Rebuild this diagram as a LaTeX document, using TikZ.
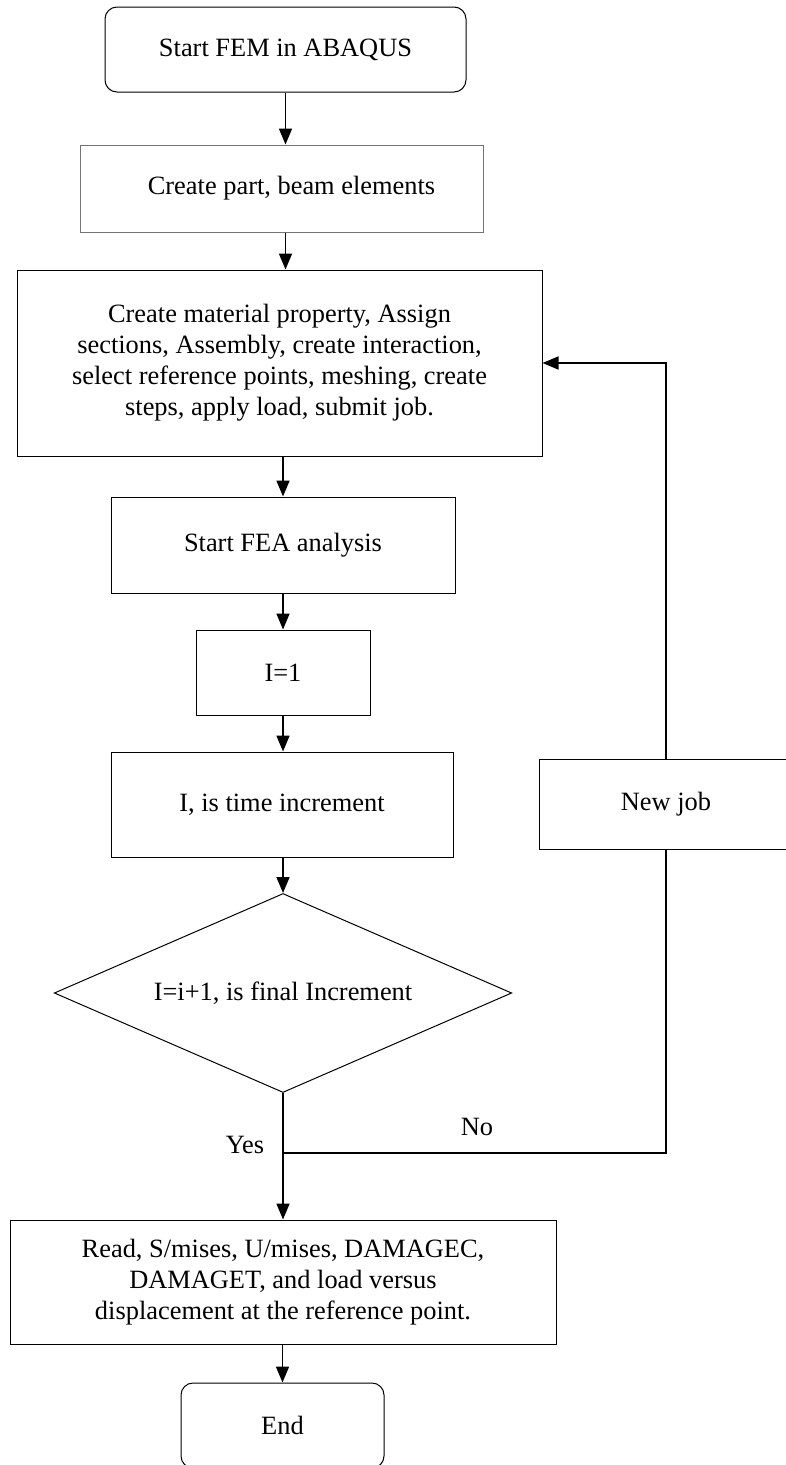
\documentclass[tikz,border=0pt]{standalone}
\usepackage{fontspec}
\setmainfont{Liberation Serif}
\usetikzlibrary{shapes.geometric,arrows.meta}

\begin{document}
\begin{tikzpicture}[
    x=1pt,y=-1pt,
    font=\fontsize{26.4}{31}\selectfont,
    box/.style={rectangle,draw=black,line width=1pt,align=center,inner sep=0pt},
    term/.style={box,rounded corners=12pt},
    decision/.style={diamond,draw=black,line width=1pt,aspect=2.3,inner sep=0pt},
    flow/.style={draw=black,line width=1.7pt,-{Triangle[length=16pt,width=13pt]}},
    link/.style={draw=black,line width=1.4pt},
    ]
    \useasboundingbox (0,0) rectangle (786,1465);
    \node[term,minimum width=361pt,minimum height=85pt] (start) at (285.5,49.5) {Start FEM in ABAQUS};
    \node[box,draw=black!55,minimum width=403pt,minimum height=87pt] (part) at (281.5,188.5) {\hspace{20pt}Create part, beam elements};
    \node[box,minimum width=525pt,minimum height=186pt] (setup) at (279.5,363) {Create material property, Assign\\ sections, Assembly, create interaction,\\ select reference points, meshing, create\\ steps, apply load, submit job.};
    \node[box,minimum width=344pt,minimum height=96pt] (fea) at (283,545) {Start FEA analysis};
    \node[box,minimum width=174pt,minimum height=85pt] (init) at (283,672.5) {I=1};
    \node[box,minimum width=342pt,minimum height=105pt] (incr) at (282,804.5) {I, is time increment};
    \node[decision,minimum width=457.5pt,minimum height=199pt] (check) at (283,993) {I=i+1, is final Increment};
    \node[box,minimum width=254pt,minimum height=90pt] (newjob) at (666,804) {New job};
    \node[box,minimum width=546pt,minimum height=124pt] (read) at (283,1282) {Read, S/mises, U/mises, DAMAGEC,\\ DAMAGET, and load versus\\ displacement at the reference point.};
    \node[term,minimum width=203pt,minimum height=85pt] (stop) at (282.5,1425.5) {End};
    \node (yeslbl) at (245,1145) {Yes};
    \node (nolbl) at (477,1127) {No};
    \coordinate (join) at (283,1153);

    % main column
    \draw[flow] (start.south) -- (start.south |- part.north);
    \draw[flow] (part.south -| start.south) -- (start.south |- setup.north);
    \draw[flow] (setup.south -| fea.north) -- (fea.north);
    \draw[flow] (fea.south) -- (init.north);
    \draw[flow] (init.south) -- (init.south |- incr.north);
    \draw[flow] (incr.south -| check.north) -- (check.north);
    \draw[flow] (check.south) -- (read.north);
    \draw[flow] (read.south -| stop.north) -- (stop.north);

    % loop back for a new job
    \draw[link] (join) -- (join -| newjob.south) -- (newjob.south);
    \draw[flow] (newjob.north) |- (setup.east);
\end{tikzpicture}
\end{document}
